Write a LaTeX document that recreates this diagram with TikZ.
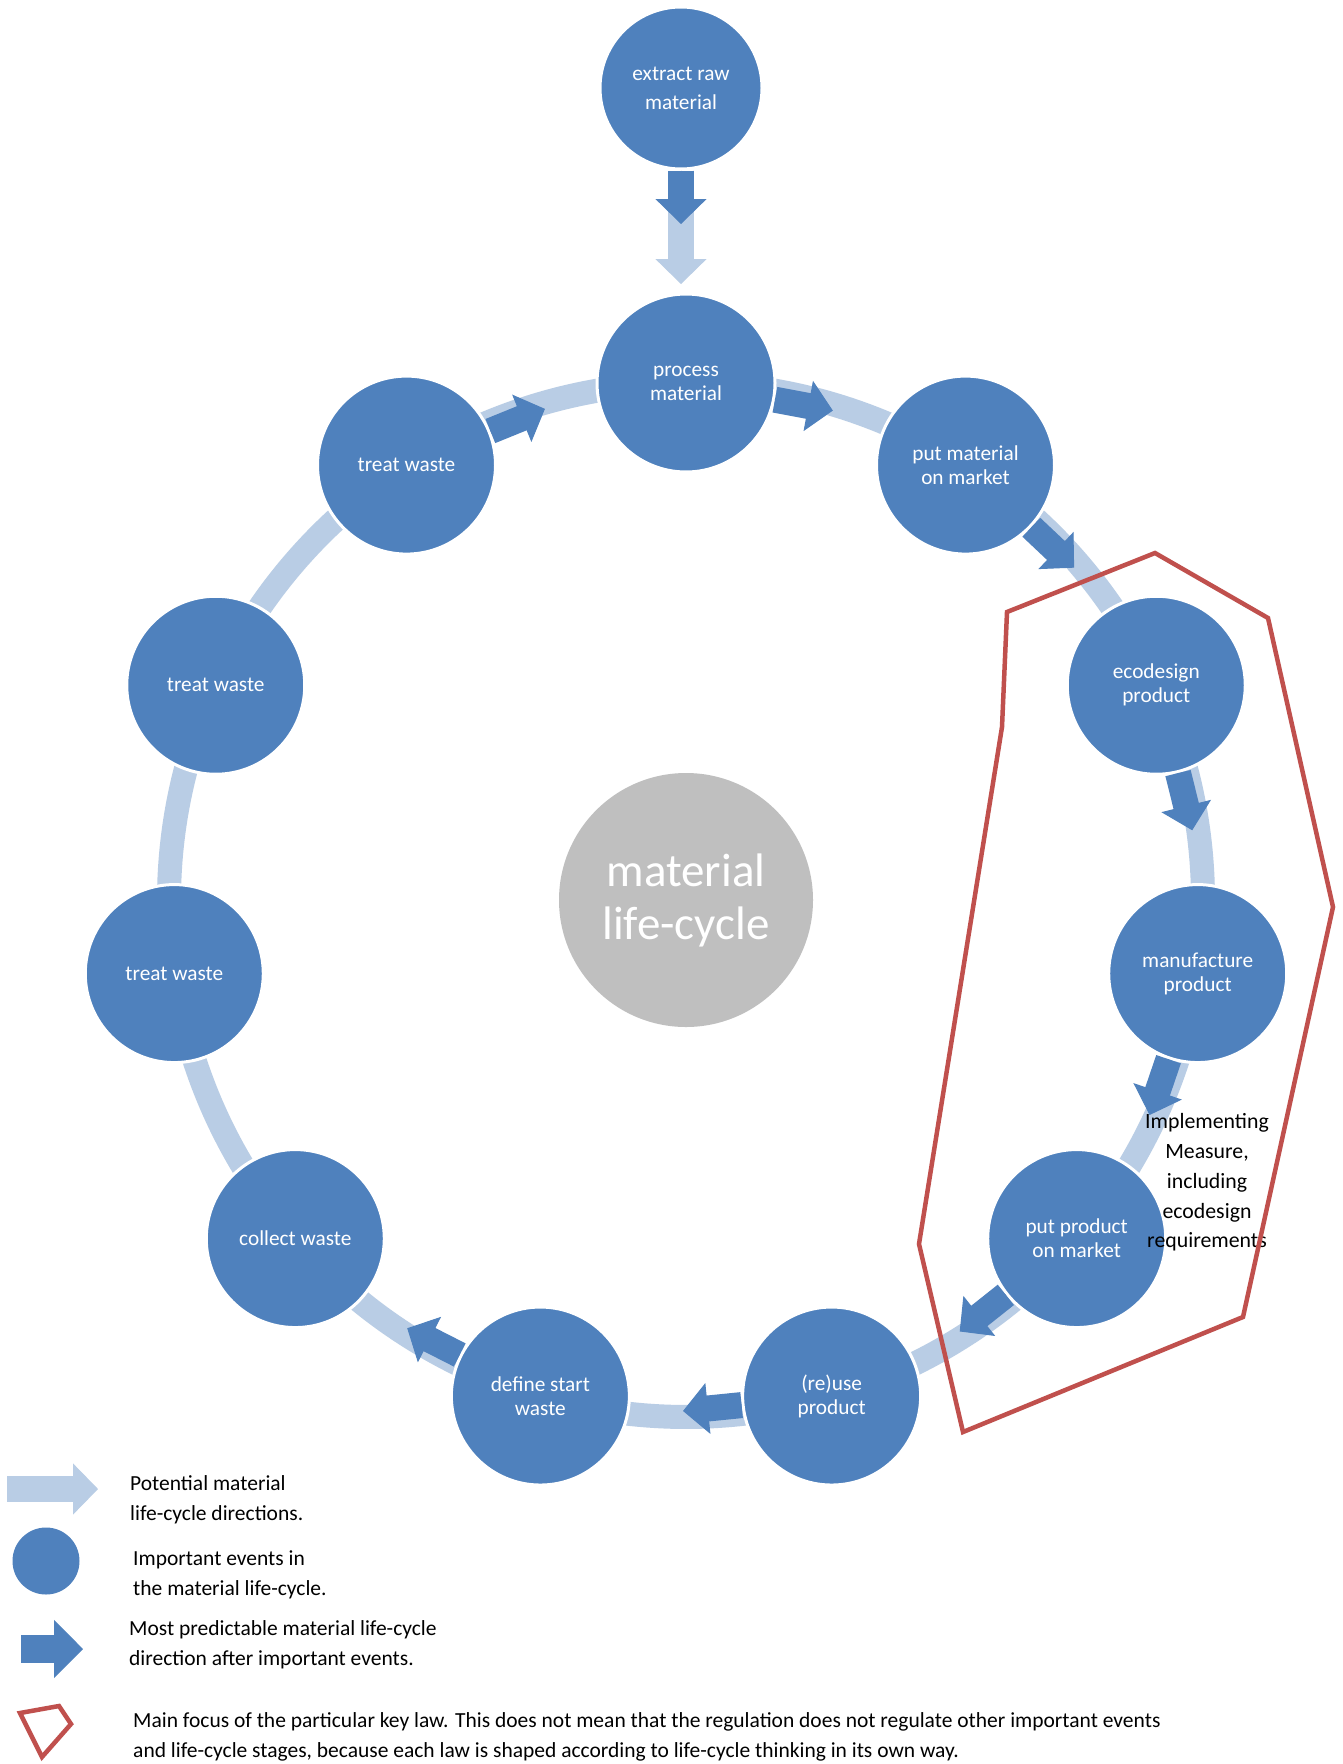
\documentclass[tikz,border=0pt]{standalone}
\usepackage{fontspec}
\setmainfont{Carlito}
\usetikzlibrary{arrows.meta}
\definecolor{evblue}{HTML}{4F81BD}
\definecolor{flowblue}{HTML}{B9CDE5}
\definecolor{coregray}{HTML}{BFBFBF}
\definecolor{lawred}{HTML}{C0504D}
\begin{document}
\begin{tikzpicture}[x=1pt,y=1pt,
  ev/.style={circle, fill=evblue, draw=white, line width=3pt, minimum size=178pt,
    inner sep=0pt, text=white, align=center, font=\fontsize{21.3}{24}\selectfont},
  band/.style={flowblue, line width=24pt},
  lshaft/.style={flowblue, line width=26pt, shorten >=24pt},
  lhead/.style={flowblue, line width=1pt, -{Triangle[width=51pt,length=25pt]}},
  dshaft/.style={evblue, line width=26pt, shorten >=24pt},
  dhead/.style={evblue, line width=1pt, -{Triangle[width=51pt,length=25pt]}},
  focus/.style={lawred, line width=4.5pt, line join=miter},
  lbl/.style={anchor=base west, inner sep=0pt, font=\fontsize{21.5}{24}\selectfont},
  note/.style={anchor=base, inner sep=0pt, font=\fontsize{21.8}{24}\selectfont}
]
% page
\fill[white] (0,0) rectangle (1343,-1764);
\useasboundingbox (0,0) rectangle (1343,-1764);

% centre of the cycle
\node[circle, fill=coregray, minimum size=254pt, inner sep=0pt, text=white,
  align=center, font=\fontsize{47}{53}\selectfont] (c) at (686,-900) {material\\life-cycle};

% potential directions: light bands along the ring
\foreach \k in {0,...,10}{
  \pgfmathsetmacro\angA{90-\k*360/11-8}
  \pgfmathsetmacro\angB{90-(\k+1)*360/11+8}
  \draw[band] ([shift={(\angA:517)}]c.center) arc[start angle=\angA, end angle=\angB, radius=517];
}

% events on the ring
\node[ev] (p0)  at ([shift={(90:517)}]c.center)            {process\\material};
\node[ev] (p1)  at ([shift={({90-1*360/11}:517)}]c.center) {put material\\on market};
\node[ev] (p2)  at ([shift={({90-2*360/11}:517)}]c.center) {ecodesign\\product};
\node[ev] (p3)  at ([shift={({90-3*360/11}:517)}]c.center) {manufacture\\product};
\node[ev] (p4)  at ([shift={({90-4*360/11}:517)}]c.center) {put product\\on market};
\node[ev] (p5)  at ([shift={({90-5*360/11}:517)}]c.center) {(re)use\\product};
\node[ev] (p6)  at ([shift={({90-6*360/11}:517)}]c.center) {define start\\waste};
\node[ev] (p7)  at ([shift={({90-7*360/11}:517)}]c.center) {collect waste};
\node[ev] (p8)  at ([shift={({90-8*360/11}:517)}]c.center) {treat waste};
\node[ev] (p9)  at ([shift={({90-9*360/11}:517)}]c.center) {treat waste};
\node[ev] (p10) at ([shift={({90-10*360/11}:517)}]c.center) {treat waste};

% most predictable directions: dark block arrows
\foreach \k in {0,1,2,3,4,5,6,10}{
  \pgfmathsetmacro\angT{90-\k*360/11-16.7}
  \coordinate (tip\k) at ([shift={(\angT:511)}]c.center);
  \draw[dshaft] (p\k) -- (tip\k);
  \draw[dhead] (p\k) -- (tip\k);
}

% entry of raw material
\node[ev, minimum size=162pt, font=\fontsize{21.3}{29}\selectfont] (ex) at (681,-88) {extract raw\\material};
\coordinate (ltip) at (681,-284);
\coordinate (dtip) at (681,-224);
\draw[lshaft] (ex) -- (ltip);
\draw[lhead] (ex) -- (ltip);
\draw[dshaft] (ex) -- (dtip);
\draw[dhead] (ex) -- (dtip);

% note on the focus area
\node[note] (n1) at (1207,-1128) {Implementing};
\node[note] (n2) at (1207,-1158) {Measure,};
\node[note] (n3) at (1207,-1188) {including};
\node[note] (n4) at (1207,-1218) {ecodesign};
\node[note] (n5) at (1207,-1247) {requirements};

% focus of the key law
\coordinate (fa) at (1155,-553);
\coordinate (fb) at (1268,-618);
\coordinate (fc) at (1333,-907);
\coordinate (fd) at (1243,-1317);
\coordinate (fe) at (963,-1432);
\coordinate (ff) at (919,-1244);
\coordinate (fg) at (1002,-727);
\coordinate (fh) at (1007,-612);
\draw[focus] (fa) -- (fb) -- (fc) -- (fd) -- (fe) -- (ff) -- (fg) -- (fh) -- cycle;

% legend
\coordinate (la1) at (7,-1489);
\coordinate (la2) at (98,-1489);
\draw[lshaft] (la1) -- (la2);
\draw[lhead] (la1) -- (la2);
\node[lbl] (t1a) at (130,-1490) {Potential material};
\node[lbl] (t1b) at (130,-1520) {life-cycle directions.};

\node[circle, fill=evblue, minimum size=67pt, inner sep=0pt] (lev) at (46,-1561) {};
\node[lbl] (t2a) at (133,-1565) {Important events in};
\node[lbl] (t2b) at (133,-1595) {the material life-cycle.};

\coordinate (da1) at (21,-1649);
\coordinate (da2) at (83,-1649);
\draw[evblue, line width=28pt, shorten >=28pt] (da1) -- (da2);
\draw[evblue, line width=1pt, -{Triangle[width=58pt,length=29pt]}] (da1) -- (da2);
\node[lbl] (t3a) at (129,-1635) {Most predictable material life-cycle};
\node[lbl] (t3b) at (129,-1665) {direction after important events.};

\coordinate (qa) at (20,-1713);
\coordinate (qb) at (59,-1706);
\coordinate (qc) at (71,-1724);
\coordinate (qd) at (42,-1757);
\draw[focus] (qa) -- (qb) -- (qc) -- (qd) -- cycle;
\node[lbl] (t4a) at (133,-1727) {Main focus of the particular key law. This does not mean that the regulation does not regulate other important events};
\node[lbl] (t4b) at (133,-1757) {and life-cycle stages, because each law is shaped according to life-cycle thinking in its own way.};
\end{tikzpicture}
\end{document}
